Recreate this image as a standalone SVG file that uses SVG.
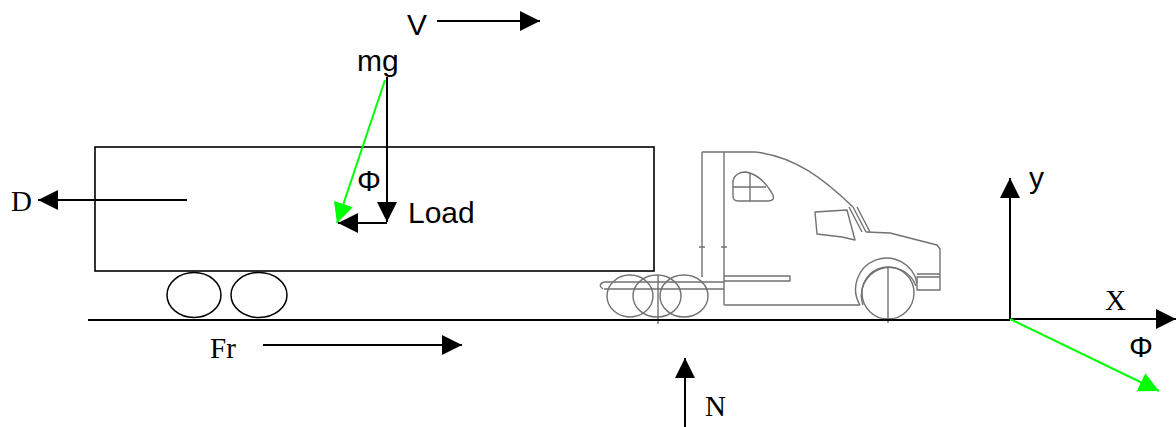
<svg xmlns="http://www.w3.org/2000/svg" width="1176" height="427" viewBox="0 0 1176 427">
<defs>
<marker id="ab" viewBox="0 0 20 20" refX="20" refY="10" markerWidth="20" markerHeight="20" markerUnits="userSpaceOnUse" orient="auto"><path d="M0,0 L20,10 L0,20 Z" fill="#000"/></marker>
<marker id="ag" viewBox="0 0 20 20" refX="20" refY="10" markerWidth="20" markerHeight="20" markerUnits="userSpaceOnUse" orient="auto"><path d="M0,0 L20,10 L0,20 Z" fill="#00ff00"/></marker>
</defs>
<style>
.blk{stroke:#000;stroke-width:2;fill:none}
.arr{stroke:#000;stroke-width:2;fill:none;marker-end:url(#ab)}
.grn{stroke:#00ff00;stroke-width:2;fill:none;marker-end:url(#ag)}
.trk{stroke:#727272;stroke-width:1.4;fill:none;stroke-linejoin:round}
.sans{font-family:"Liberation Sans",Arial,sans-serif;font-size:30px;fill:#000}
.serif{font-family:"Liberation Serif","Times New Roman",serif;font-size:29px;fill:#000}
</style>
<rect width="1176" height="427" fill="#fff"/>
<g id="trailer">
<rect x="95" y="147" width="559" height="124" fill="none" stroke="#000" stroke-width="1.6"/>
<ellipse cx="194" cy="295" rx="27" ry="22.5" fill="none" stroke="#000" stroke-width="1.5"/>
<ellipse cx="259" cy="295" rx="28" ry="22.5" fill="none" stroke="#000" stroke-width="1.5"/>
</g>
<g id="tractor">
<path class="trk" d="M702,152 V277 M724,152 V305 M702,152 H755 C795,156 825,180 853,207"/>
<path class="trk" d="M849,207 L862,232 M853,207 L866,232 M857,207 L870,232"/>
<path class="trk" d="M866,232 L890,233 L937,245 L940,249 V290 H917 V277 H940 M917,274 H940"/>
<path class="trk" d="M815,212 L847,210 L855,240 L842,237 L817,234 Z"/>
<path class="trk" d="M733,181 Q735,172 746,172 Q762,175 773,195 Q775,201 768,201 H738 Q733,201 733,196 Z M750,174 V201 M733,187 H766"/>
<path class="trk" d="M724,305 H860 M860,305 A31,31 0 1 1 917,283 M863,305 A28,28 0 1 1 916,286"/>
<circle class="trk" cx="888" cy="293" r="26"/>
<path class="trk" d="M888,267 V323"/>
<path class="trk" d="M724,276 H790 V281 H724"/>
<path class="trk" d="M604,282 H724 M604,289 H724 M604,282 Q597,285 603,289"/>
<ellipse class="trk" cx="630" cy="296" rx="23" ry="21"/>
<ellipse class="trk" cx="657" cy="296" rx="24" ry="21"/>
<ellipse class="trk" cx="684" cy="296" rx="24" ry="21"/>
<path class="trk" d="M658,275 V324" stroke-width="0.8"/>
<path class="trk" d="M699,247 H705 M721,247 H727" stroke-width="0.8"/>
</g>
<g id="connectors">
<line class="blk" x1="88" y1="320" x2="1010" y2="320"/>
<line class="arr" x1="437" y1="21" x2="540" y2="21"/>
<line class="arr" x1="387" y1="77" x2="387" y2="222"/>
<line class="arr" x1="387" y1="223" x2="338" y2="223"/>
<line class="grn" x1="385" y1="80" x2="337" y2="223"/>
<line class="arr" x1="187" y1="200" x2="38" y2="200"/>
<line class="arr" x1="263" y1="345" x2="462" y2="345"/>
<line class="arr" x1="685" y1="427" x2="685" y2="358"/>
<line class="arr" x1="1010" y1="319" x2="1176" y2="319"/>
<line class="arr" x1="1010" y1="320" x2="1010" y2="178"/>
<line class="grn" x1="1010" y1="319" x2="1159" y2="391"/>
</g>
<g id="labels">
<text class="sans" x="407" y="35">V</text>
<text class="sans" x="357" y="71">mg</text>
<text class="sans" x="357" y="191">Φ</text>
<text class="sans" x="408" y="223">Load</text>
<text class="serif" x="11" y="211">D</text>
<text class="serif" x="210" y="358">Fr</text>
<text class="serif" x="705" y="416">N</text>
<text class="serif" x="1105" y="310">X</text>
<text class="sans" x="1029" y="188">y</text>
<text class="sans" x="1129" y="357">Φ</text>
</g>
</svg>
